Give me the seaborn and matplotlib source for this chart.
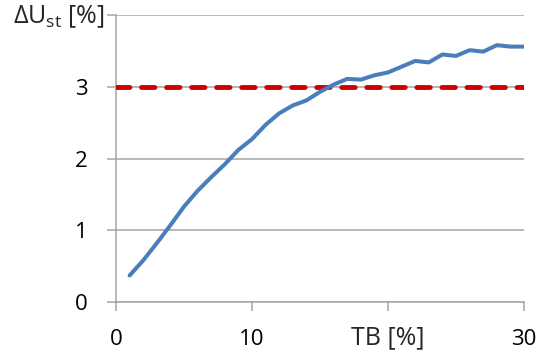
import numpy as np
import pandas as pd
import matplotlib
matplotlib.use("Agg")
import matplotlib.pyplot as plt
import seaborn as sns

# values
tb = [1, 2, 3, 4, 5, 6, 7, 8, 9, 10, 11, 12, 13, 14, 15,
      16, 17, 18, 19, 20, 21, 22, 23, 24, 25, 26, 27, 28, 29, 30]
du = [0.37, 0.58, 0.82, 1.07, 1.33, 1.55, 1.74, 1.92, 2.12, 2.27,
      2.47, 2.63, 2.74, 2.81, 2.93, 3.03, 3.11, 3.10, 3.16, 3.20,
      3.28, 3.36, 3.34, 3.45, 3.43, 3.51, 3.49, 3.58, 3.56, 3.56]
limit_x = [0, 30]
limit_y = [3, 3]

x_ticks = [0, 10, 20, 30]
x_labels = ["0", "10", "", "30"]
y_ticks = [0, 1, 2, 3, 4]
y_labels = ["0", "1", "2", "3", ""]
x_title = "TB [%]"
y_title = r"$\Delta$U$_{\mathregular{st}}$ [%]"

df = pd.DataFrame({"TB": tb, "dU": du})

sns.set_style("white")
plt.rcParams["font.family"] = ["Open Sans", "DejaVu Sans"]
plt.rcParams["mathtext.fontset"] = "custom"
plt.rcParams["mathtext.rm"] = "Open Sans"

grey = "#a6a6a6"

fig = plt.figure(figsize=(5.4, 3.58), dpi=100)
ax = fig.add_axes([0.2148, 0.1564, 0.7556, 0.8016])

ax.yaxis.grid(True, color=grey, linewidth=1.1)
ax.set_axisbelow(True)

# threshold line
ax.plot(limit_x, limit_y, color="#cc0000", linewidth=3.5,
        linestyle=(0, (2.75, 2.4)), dash_capstyle="round", zorder=3)
sns.lineplot(data=df, x="TB", y="dU", ax=ax, color="#4a7ebb",
             linewidth=2.9, zorder=4)
for ln in ax.lines[1:]:
    ln.set_solid_joinstyle("round")
    ln.set_solid_capstyle("round")

ax.set_xlim(0, 30)
ax.set_ylim(0, 4)
ax.set_xticks(x_ticks)
ax.set_xticklabels(x_labels)
ax.set_yticks(y_ticks)
ax.set_yticklabels(y_labels)
ax.set_xlabel("")
ax.set_ylabel("")

# axis titles sit where the 20 and 4 tick labels would be
ax.annotate(x_title, xy=(20, 0), xytext=(0, -26), textcoords="offset points",
            ha="center", va="center", fontsize=18, annotation_clip=False)
ax.annotate(y_title, xy=(0, 4), xytext=(-8, -1), textcoords="offset points",
            ha="right", va="center", fontsize=18, annotation_clip=False)

for side in ["top", "right"]:
    ax.spines[side].set_visible(False)
for side in ["left", "bottom"]:
    ax.spines[side].set_color(grey)
    ax.spines[side].set_linewidth(1.1)

ax.tick_params(axis="both", colors=grey, length=6.5, width=1.1,
               labelcolor="black", labelsize=16)
ax.tick_params(axis="y", pad=14)
ax.tick_params(axis="x", direction="out", pad=13)
ax.tick_params(axis="x", which="both", bottom=True)
ax.tick_params(axis="y", which="both", left=True)

fig.savefig("out.png", dpi=100)
